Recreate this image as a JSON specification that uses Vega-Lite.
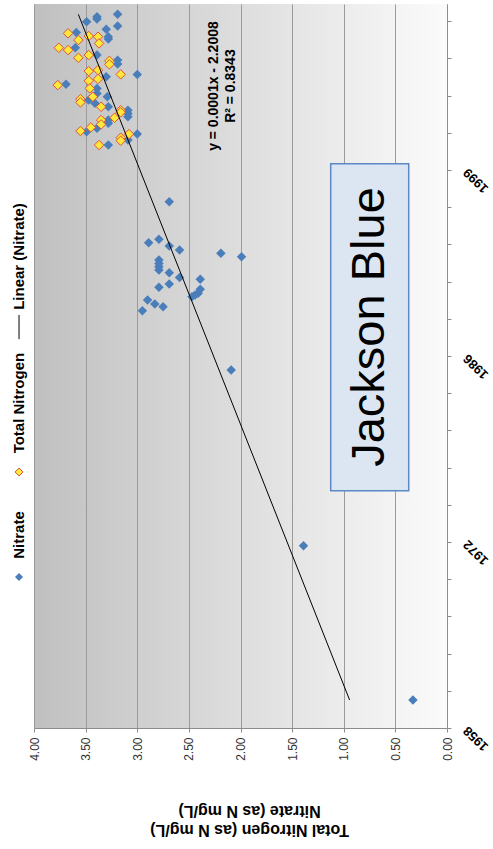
{
  "$schema": "https://vega.github.io/schema/vega-lite/v6.json",
  "width": 413,
  "height": 724,
  "autosize": {"type": "none"},
  "padding": {"left": 34, "top": 4, "right": 46, "bottom": 121},
  "background": "white",
  "config": {
    "font": "Liberation Sans",
    "view": {
      "stroke": null,
      "fill": {"gradient": "linear", "x1": 0, "y1": 0, "x2": 1, "y2": 0,
        "stops": [{"offset": 0, "color": "#c0c0c0"}, {"offset": 1, "color": "#fbfbfb"}]}
    }
  },
  "datasets": {
    "nitrate": [
      {"year": 2011.24, "v": 3.19}, {"year": 2011.07, "v": 3.39}, {"year": 2010.90, "v": 3.39},
      {"year": 2010.69, "v": 3.49}, {"year": 2010.38, "v": 3.19}, {"year": 2010.15, "v": 3.30},
      {"year": 2009.91, "v": 3.59}, {"year": 2009.59, "v": 3.28}, {"year": 2009.42, "v": 3.28},
      {"year": 2008.78, "v": 3.60}, {"year": 2008.24, "v": 3.39}, {"year": 2007.87, "v": 3.19},
      {"year": 2007.58, "v": 3.19}, {"year": 2006.82, "v": 3.00}, {"year": 2006.65, "v": 3.30},
      {"year": 2006.09, "v": 3.69}, {"year": 2005.79, "v": 3.39}, {"year": 2005.42, "v": 3.39},
      {"year": 2005.17, "v": 3.29}, {"year": 2004.93, "v": 3.47}, {"year": 2004.69, "v": 3.41},
      {"year": 2004.44, "v": 3.28}, {"year": 2004.19, "v": 3.09}, {"year": 2003.95, "v": 3.09},
      {"year": 2003.70, "v": 3.09}, {"year": 2003.46, "v": 3.28}, {"year": 2003.22, "v": 3.28},
      {"year": 2002.85, "v": 3.39}, {"year": 2002.60, "v": 3.49}, {"year": 2002.43, "v": 3.00},
      {"year": 2001.99, "v": 3.09}, {"year": 2001.62, "v": 3.28},
      {"year": 1997.45, "v": 2.69}, {"year": 1994.68, "v": 2.79}, {"year": 1994.43, "v": 2.89},
      {"year": 1994.19, "v": 2.69}, {"year": 1993.89, "v": 2.59}, {"year": 1993.65, "v": 2.19},
      {"year": 1993.40, "v": 1.99}, {"year": 1993.16, "v": 2.79}, {"year": 1992.91, "v": 2.79},
      {"year": 1992.66, "v": 2.79}, {"year": 1992.42, "v": 2.79}, {"year": 1992.22, "v": 2.69},
      {"year": 1991.88, "v": 2.59}, {"year": 1991.74, "v": 2.39}, {"year": 1991.39, "v": 2.69},
      {"year": 1991.15, "v": 2.79}, {"year": 1991.00, "v": 2.39}, {"year": 1990.71, "v": 2.41},
      {"year": 1990.58, "v": 2.44}, {"year": 1990.46, "v": 2.47}, {"year": 1990.21, "v": 2.90},
      {"year": 1989.92, "v": 2.83}, {"year": 1989.72, "v": 2.75}, {"year": 1989.43, "v": 2.95},
      {"year": 1985.06, "v": 2.09}, {"year": 1972.13, "v": 1.39}, {"year": 1960.78, "v": 0.33}
    ],
    "tn": [
      {"year": 2009.84, "v": 3.67}, {"year": 2009.64, "v": 3.47}, {"year": 2009.59, "v": 3.38},
      {"year": 2009.35, "v": 3.57}, {"year": 2009.10, "v": 3.37}, {"year": 2008.78, "v": 3.76},
      {"year": 2008.61, "v": 3.67}, {"year": 2008.24, "v": 3.47}, {"year": 2008.04, "v": 3.57},
      {"year": 2007.82, "v": 3.27}, {"year": 2007.56, "v": 3.27}, {"year": 2007.14, "v": 3.38},
      {"year": 2007.06, "v": 3.47}, {"year": 2006.82, "v": 3.16}, {"year": 2006.48, "v": 3.38},
      {"year": 2006.35, "v": 3.47}, {"year": 2006.03, "v": 3.77}, {"year": 2005.79, "v": 3.46},
      {"year": 2005.17, "v": 3.43}, {"year": 2005.00, "v": 3.55}, {"year": 2004.76, "v": 3.55},
      {"year": 2004.44, "v": 3.35}, {"year": 2004.19, "v": 3.16}, {"year": 2004.03, "v": 3.16},
      {"year": 2003.63, "v": 3.22}, {"year": 2003.46, "v": 3.35}, {"year": 2003.14, "v": 3.35},
      {"year": 2002.92, "v": 3.45}, {"year": 2002.65, "v": 3.55}, {"year": 2002.43, "v": 3.08},
      {"year": 2002.16, "v": 3.16}, {"year": 2001.94, "v": 3.16}, {"year": 2001.62, "v": 3.37}
    ]
  },
  "layer": [
    {
      "data": {"name": "nitrate"},
      "mark": {"type": "point", "shape": "diamond", "filled": true, "size": 90, "color": "#4a7ebb", "opacity": 1},
      "encoding": {
        "x": {
          "field": "v", "type": "quantitative",
          "scale": {"domain": [0, 4], "reverse": true, "nice": false, "zero": false},
          "axis": {
            "orient": "bottom", "values": [0, 0.5, 1, 1.5, 2, 2.5, 3, 3.5, 4], "tickCount": 20, "format": ".2f",
            "grid": true, "gridColor": "#9a9a9a", "gridWidth": 1,
            "domainColor": "#8c8c8c", "tickColor": "#8c8c8c", "tickSize": 4,
            "labelAngle": 270, "labelAlign": "right", "labelBaseline": "middle", "labelPadding": 5,
            "labelFontSize": 12, "labelColor": "#333333", "labelOverlap": false, "labelFlush": false,
            "title": ["Total Nitrogen (as N mg/L)", "Nitrate (as N mg/L)"],
            "titleAngle": 180, "titleX": 215, "titleY": 96, "titleAlign": "center", "titleBaseline": "alphabetic",
            "titleFontSize": 16, "titleFontWeight": "bold", "titleLineHeight": 19, "titleColor": "black"
          }
        },
        "y": {
          "field": "year", "type": "quantitative",
          "scale": {"domain": [1958.72, 2012.0], "nice": false, "zero": false},
          "axis": {
            "orient": "right",
            "values": [1958.72, 1961.458, 1964.196, 1966.934, 1969.672, 1972.41, 1975.147, 1977.885, 1980.623, 1983.361, 1986.099, 1988.837, 1991.575, 1994.313, 1997.051, 1999.789, 2002.526, 2005.264, 2008.002, 2010.74],
            "tickCount": 40,
            "labelExpr": "abs((datum.value - 1958.72) / 13.6895 - round((datum.value - 1958.72) / 13.6895)) < 0.01 ? format(floor(datum.value), 'd') : ''",
            "grid": false, "domainColor": "#8c8c8c", "tickColor": "#8c8c8c", "tickSize": 4,
            "labelAngle": 224, "labelAlign": "right", "labelBaseline": "middle", "labelPadding": 14,
            "labelFontSize": 13, "labelFontWeight": "bold", "labelColor": "black",
            "labelOverlap": false, "labelFlush": false, "title": null
          }
        }
      }
    },
    {
      "data": {"name": "tn"},
      "mark": {"type": "point", "shape": "diamond", "filled": true, "size": 90, "fill": "#ffe83a", "stroke": "#e0503a", "strokeWidth": 1, "opacity": 1},
      "encoding": {
        "x": {"field": "v", "type": "quantitative"},
        "y": {"field": "year", "type": "quantitative"}
      }
    },
    {
      "data": {"name": "nitrate"},
      "transform": [{"regression": "v", "on": "year"}],
      "mark": {"type": "line", "color": "black", "strokeWidth": 1},
      "encoding": {
        "x": {"field": "v", "type": "quantitative"},
        "y": {"field": "year", "type": "quantitative"}
      }
    },
    {
      "data": {"values": [{}]},
      "mark": {"type": "rect", "fill": "#dce6f2", "stroke": "#5b87c5", "strokeWidth": 1.5},
      "encoding": {
        "x": {"datum": 1.1264, "type": "quantitative"},
        "x2": {"datum": 0.3709},
        "y": {"datum": 2000.24, "type": "quantitative"},
        "y2": {"datum": 1976.18}
      }
    },
    {
      "data": {"values": [{}]},
      "mark": {"type": "text", "text": "Jackson Blue", "angle": 270, "align": "center", "baseline": "middle", "fontSize": 47, "color": "black"},
      "encoding": {
        "x": {"datum": 0.7458, "type": "quantitative"},
        "y": {"datum": 1988.23, "type": "quantitative"}
      }
    },
    {
      "data": {"values": [{}]},
      "mark": {"type": "text", "text": ["y = 0.0001x - 2.2008", "R² = 0.8343"], "angle": 270, "align": "center", "baseline": "middle", "fontSize": 14, "fontWeight": "bold", "lineHeight": 17, "color": "black"},
      "encoding": {
        "x": {"datum": 2.2615, "type": "quantitative"},
        "y": {"datum": 2005.96, "type": "quantitative"}
      }
    },
    {
      "data": {"values": [{}]},
      "mark": {"type": "point", "shape": "diamond", "filled": true, "size": 64, "color": "#4a7ebb", "opacity": 1},
      "encoding": {
        "x": {"datum": 4.145, "type": "quantitative"},
        "y": {"datum": 1969.83, "type": "quantitative"}
      }
    },
    {
      "data": {"values": [{}]},
      "mark": {"type": "text", "text": "Nitrate", "angle": 270, "align": "center", "baseline": "middle", "fontSize": 15, "fontWeight": "bold", "color": "black"},
      "encoding": {
        "x": {"datum": 4.145, "type": "quantitative"},
        "y": {"datum": 1972.92, "type": "quantitative"}
      }
    },
    {
      "data": {"values": [{}]},
      "mark": {"type": "point", "shape": "diamond", "filled": true, "size": 64, "fill": "#ffe83a", "stroke": "#e0503a", "strokeWidth": 1, "opacity": 1},
      "encoding": {
        "x": {"datum": 4.145, "type": "quantitative"},
        "y": {"datum": 1977.56, "type": "quantitative"}
      }
    },
    {
      "data": {"values": [{}]},
      "mark": {"type": "text", "text": "Total Nitrogen", "angle": 270, "align": "center", "baseline": "middle", "fontSize": 15, "fontWeight": "bold", "color": "black"},
      "encoding": {
        "x": {"datum": 4.145, "type": "quantitative"},
        "y": {"datum": 1982.63, "type": "quantitative"}
      }
    },
    {
      "data": {"values": [{}]},
      "mark": {"type": "rule", "color": "black", "strokeWidth": 1},
      "encoding": {
        "x": {"datum": 4.145, "type": "quantitative"},
        "y": {"datum": 1987.34, "type": "quantitative"},
        "y2": {"datum": 1989.11}
      }
    },
    {
      "data": {"values": [{}]},
      "mark": {"type": "text", "text": "Linear (Nitrate)", "angle": 270, "align": "center", "baseline": "middle", "fontSize": 15, "fontWeight": "bold", "color": "black"},
      "encoding": {
        "x": {"datum": 4.145, "type": "quantitative"},
        "y": {"datum": 1993.42, "type": "quantitative"}
      }
    }
  ]
}
